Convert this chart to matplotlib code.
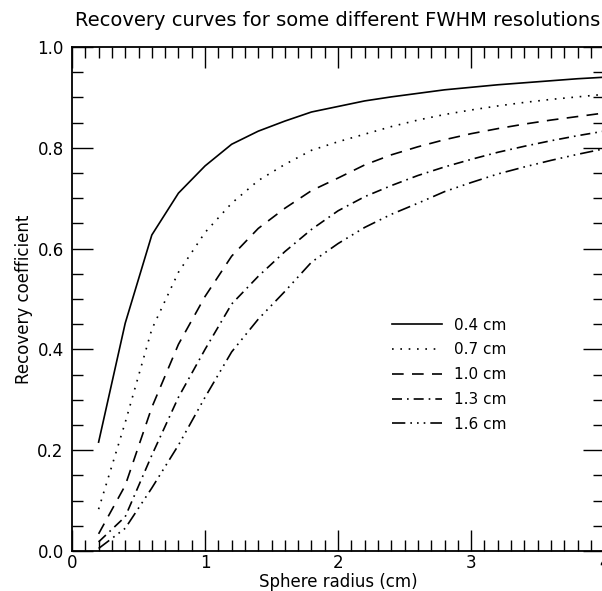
import matplotlib
matplotlib.use('Agg')
import matplotlib.pyplot as plt
from matplotlib.ticker import MultipleLocator

radius = [0.2, 0.4, 0.6, 0.8, 1.0, 1.2, 1.4, 1.6, 1.8, 2.0, 2.2,
          2.4, 2.6, 2.8, 3.0, 3.2, 3.4, 3.6, 3.8, 4.0]

rc_04 = [0.216, 0.452, 0.627, 0.710, 0.764, 0.807, 0.833, 0.853, 0.871, 0.882, 0.893,
         0.901, 0.908, 0.915, 0.920, 0.925, 0.929, 0.933, 0.937, 0.940]
rc_07 = [0.083, 0.255, 0.440, 0.553, 0.632, 0.690, 0.735, 0.767, 0.795, 0.812, 0.827,
         0.842, 0.855, 0.866, 0.875, 0.883, 0.890, 0.896, 0.901, 0.906]
rc_10 = [0.034, 0.130, 0.285, 0.410, 0.505, 0.585, 0.640, 0.680, 0.715, 0.740, 0.766,
         0.786, 0.802, 0.816, 0.828, 0.838, 0.847, 0.855, 0.862, 0.869]
rc_13 = [0.018, 0.068, 0.190, 0.305, 0.400, 0.490, 0.545, 0.594, 0.638, 0.675, 0.703,
         0.725, 0.745, 0.762, 0.777, 0.791, 0.803, 0.814, 0.824, 0.833]
rc_16 = [0.005, 0.045, 0.125, 0.210, 0.305, 0.395, 0.460, 0.515, 0.573, 0.610, 0.642,
         0.668, 0.690, 0.713, 0.731, 0.748, 0.762, 0.775, 0.787, 0.798]

labels = ['0.4 cm', '0.7 cm', '1.0 cm', '1.3 cm', '1.6 cm']
styles = ['-', (0, (1, 4)), (0, (7, 5)), (0, (6, 3, 1, 3)), (0, (8, 3, 1, 3, 1, 3, 1, 3))]

fig = plt.figure(figsize=(6.02, 5.91), dpi=100)
ax = fig.add_axes([0.1196, 0.0677, 0.884, 0.8528])

for vals, lab, ls in zip([rc_04, rc_07, rc_10, rc_13, rc_16], labels, styles):
    ax.plot(radius, vals, color='black', lw=1.2, linestyle=ls, label=lab)

ax.set_xlim(0, 4)
ax.set_ylim(0, 1.0)
ax.xaxis.set_major_locator(MultipleLocator(1))
ax.xaxis.set_minor_locator(MultipleLocator(0.1))
ax.yaxis.set_major_locator(MultipleLocator(0.2))
ax.yaxis.set_minor_locator(MultipleLocator(0.05))
ax.tick_params(which='both', direction='in', top=True, right=True, labelsize=12, width=1)
ax.tick_params(which='major', length=15)
ax.tick_params(which='minor', length=8)
ax.tick_params(axis='x', which='major', pad=2)
ax.tick_params(axis='y', which='major', pad=6)
for s in ax.spines.values():
    s.set_linewidth(1.3)

ax.set_title('Recovery curves for some different FWHM resolutions', fontsize=14, pad=15)
ax.set_xlabel('Sphere radius (cm)', fontsize=12, labelpad=1)
ax.set_ylabel('Recovery coefficient', fontsize=12, labelpad=3)

ax.legend(loc='center left', bbox_to_anchor=(0.575, 0.35), frameon=False, fontsize=11,
          handlelength=3.3, handletextpad=0.8, labelspacing=0.64)

fig.savefig('out.png', dpi=100)
